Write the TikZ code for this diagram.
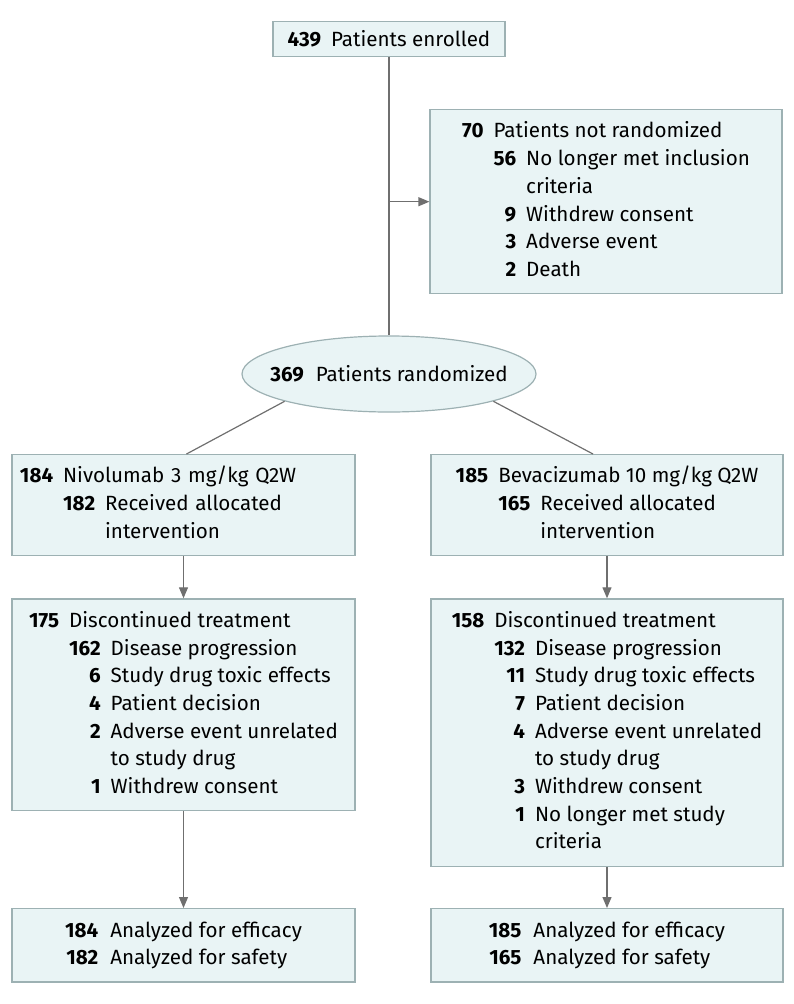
\documentclass[tikz,border=0pt]{standalone}
\usepackage{fontspec}
\setmainfont{Fira Sans}
\usepackage{array}
\usetikzlibrary{shapes.geometric,arrows.meta,positioning}

\definecolor{boxfill}{HTML}{E9F4F5}
\definecolor{boxline}{HTML}{9DB1B3}
\definecolor{flowline}{HTML}{6F6F6F}

\newcommand{\cnt}[1]{\textbf{#1}}
\newenvironment{countlist}{\begin{tabular}{@{}r@{\hspace{10bp}}r@{\hspace{10bp}}l@{}}}{\end{tabular}}
\newenvironment{countpair}{\begin{tabular}{@{}r@{\hspace{12bp}}l@{}}}{\end{tabular}}

\begin{document}
\begin{tikzpicture}[x=1bp, y=-1bp,
    every node/.style={font=\fontsize{20.6bp}{27.7bp}\selectfont},
    box/.style={draw=boxline, fill=boxfill, line width=1.2bp,
      inner xsep=8bp, inner ysep=9bp, anchor=north},
    leftcol/.style={box, minimum width=343bp},
    rightcol/.style={box, minimum width=352bp},
    flow/.style={draw=flowline, line width=1.2bp},
    flowarrow/.style={flow, -{Triangle[length=11bp,width=9bp]}}]
  \useasboundingbox (0,0) rectangle (794,1004);

  % enrolment and exclusions
  \node (enrolled) [box, minimum width=232bp] at (389,21)
    {\cnt{439}\hspace{10bp}Patients enrolled};
  \node (excluded) [rightcol, minimum width=352bp] at (606,109) {\begin{countlist}
      \cnt{70} & \multicolumn{2}{@{}l@{}}{Patients not randomized}\\
      & \cnt{56} & No longer met inclusion\\
      & & criteria\\
      & \cnt{9} & Withdrew consent\\
      & \cnt{3} & Adverse event\\
      & \cnt{2} & Death
    \end{countlist}};
  \node (random) [ellipse, draw=boxline, fill=boxfill, line width=1.2bp,
    inner sep=0pt, minimum width=294bp, minimum height=76bp] at (389,374)
    {\makebox[0pt][c]{\cnt{369}\hspace{12bp}Patients randomized}};

  % allocation
  \node (nivo) [leftcol, text width=327bp, align=left] at (183.5,454) {\begin{countlist}
      \cnt{184} & \multicolumn{2}{@{}l@{}}{Nivolumab 3 mg/kg Q2W}\\
      & \cnt{182} & Received allocated\\
      & & intervention
    \end{countlist}};
  \node (beva) [rightcol] at (607,454) {\begin{countlist}
      \cnt{185} & \multicolumn{2}{@{}l@{}}{Bevacizumab 10 mg/kg Q2W}\\
      & \cnt{165} & Received allocated\\
      & & intervention
    \end{countlist}};

  % follow-up
  \node (nivostop) [leftcol, below=42bp of nivo] {\begin{countlist}
      \cnt{175} & \multicolumn{2}{@{}l@{}}{Discontinued treatment}\\
      & \cnt{162} & Disease progression\\
      & \cnt{6} & Study drug toxic effects\\
      & \cnt{4} & Patient decision\\
      & \cnt{2} & Adverse event unrelated\\
      & & to study drug\\
      & \cnt{1} & Withdrew consent
    \end{countlist}};
  \node (bevastop) [rightcol, below=42bp of beva] {\begin{countlist}
      \cnt{158} & \multicolumn{2}{@{}l@{}}{Discontinued treatment}\\
      & \cnt{132} & Disease progression\\
      & \cnt{11} & Study drug toxic effects\\
      & \cnt{7} & Patient decision\\
      & \cnt{4} & Adverse event unrelated\\
      & & to study drug\\
      & \cnt{3} & Withdrew consent\\
      & \cnt{1} & No longer met study\\
      & & criteria
    \end{countlist}};

  % analysis
  \node (nivoan) [leftcol] at (183.5,908) {\begin{countpair}
      \cnt{184} & Analyzed for efficacy\\
      \cnt{182} & Analyzed for safety
    \end{countpair}};
  \node (bevaan) [rightcol] at (607,908) {\begin{countpair}
      \cnt{185} & Analyzed for efficacy\\
      \cnt{165} & Analyzed for safety
    \end{countpair}};

  \coordinate (split) at (enrolled.south |- excluded.west);
  \draw[flow] (enrolled.south) -- (random.north);
  \draw[flowarrow] (split) -- (excluded.west);
  \draw[flow] (random.south west) -- ([xshift=3bp]nivo.north);
  \draw[flow] (random.south east) -- ([xshift=-14bp]beva.north);
  \draw[flowarrow] (nivo) -- (nivostop);
  \draw[flowarrow] (beva) -- (bevastop);
  \draw[flowarrow] (nivostop) -- (nivoan);
  \draw[flowarrow] (bevastop) -- (bevaan);
\end{tikzpicture}
\end{document}
